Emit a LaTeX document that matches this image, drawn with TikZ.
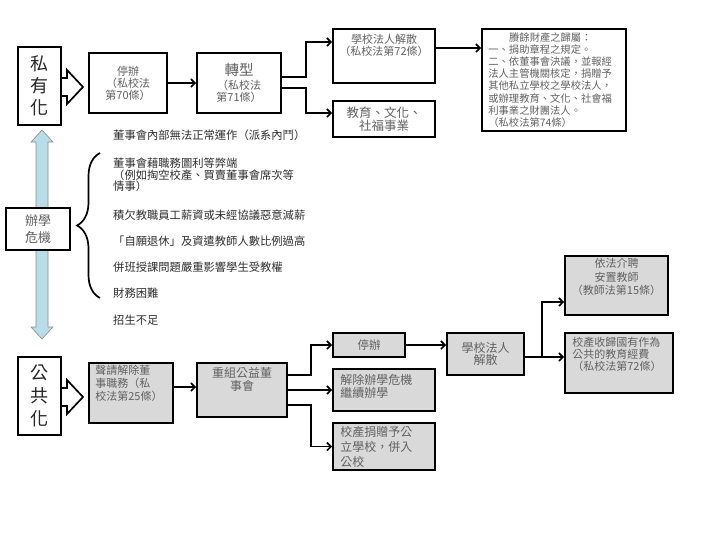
\documentclass[tikz,border=0pt]{standalone}
\usepackage{fontspec}
\newfontfamily\cjk{Noto Sans CJK TC}
\usetikzlibrary{arrows.meta, decorations.pathreplacing, calc}
\definecolor{pipeblue}{HTML}{B7DDE8}

\begin{document}
\begin{tikzpicture}[x=1pt, y=-1pt,
  box/.style={draw, line width=1.7pt, fill=white, inner sep=0pt, align=center, text=black!62, font=\cjk\fontsize{11}{12}\selectfont},
  gbox/.style={box, fill=black!15},
  big/.style={box, text=black!85, font=\cjk\fontsize{18}{22}\selectfont},
  lbl/.style={inner sep=0pt, text=black!62},
  conn/.style={line width=1.7pt, -{Straight Barb[length=4pt, width=8pt]}},
  item/.style={anchor=west, align=left, inner sep=0pt, text=black!82, font=\cjk\fontsize{11.3}{11.7}\selectfont}]
  \useasboundingbox (0,0) rectangle (715,536);

  \filldraw[draw=black!45, fill=pipeblue, line width=0.6pt] (42,130) -- (53,142) -- (48,142) -- (48,327) -- (53,327) -- (42,339) -- (31,327) -- (36,327) -- (36,142) -- (31,142) -- cycle;

  \node[big, minimum width=43, minimum height=78] (syh) at (39.5,86) {私\\有\\化};
  \draw[line width=1.7pt] (syh.east |- 0,78) -- (67,78) -- (67,70) -- (83,87) -- (67,104) -- (67,96) -- (syh.east |- 0,96);
  \node[box, minimum width=78, minimum height=60] (tb) at (128,83) {停辦\\（私校法\\第70條）};
  \node[box, minimum width=84, minimum height=60] (zx) at (239,83) {{\fontsize{14.5}{16}\selectfont 轉型}\\[2pt]（私校法\\第71條）};
  \node[box, minimum width=102, minimum height=54, label={[lbl, anchor=north, yshift=-6pt, align=center, font=\cjk\fontsize{11}{11.5}\selectfont]north:{學校法人解散\\（私校法第72條）}}] (jsA) at (384,56) {};
  \node[box, minimum width=102, minimum height=36, font=\cjk\fontsize{12.5}{12.5}\selectfont] (jwf) at (384,119) {教育、文化、\\社福事業};
  \node[box, minimum width=144, minimum height=102, label={[lbl, anchor=north west, xshift=7pt, yshift=-4pt, align=left, font=\cjk\fontsize{10.3}{12.2}\selectfont]north west:{\makebox[124pt]{賸餘財產之歸屬：}\\一、捐助章程之規定。\\二、依董事會決議，並報經\\法人主管機關核定，捐贈予\\其他私立學校之學校法人，\\或辦理教育、文化、社會福\\利事業之財團法人。\\（私校法第74條）}}] (sycc) at (554,80) {};

  \draw[conn] (tb) -- (zx);
  \draw[conn] ([yshift=6pt]zx.east) -- ++(24,0) |- ([yshift=14pt]jsA.west);
  \draw[conn] ([yshift=-5pt]zx.east) -- ++(24,0) |- ([yshift=6pt]jwf.west);
  \draw[conn] ([yshift=8pt]jsA.east) -- ([yshift=8pt]jsA.east -| sycc.west);

  \node[box, minimum width=64, minimum height=42, font=\cjk\fontsize{13}{17}\selectfont] (bxwj) at (38,229) {辦學\\危機};
  \draw[line width=1.7pt, decorate, decoration={brace, amplitude=23pt}] (100,298) -- (100,153);
  \node[item] (i1) at (113,135) {董事會內部無法正常運作（派系內鬥）};
  \node[item] (i2) at (113,175) {董事會藉職務圖利等弊端\\（例如掏空校產、買賣董事會席次等\\情事）};
  \node[item] (i3) at (113,215) {積欠教職員工薪資或未經協議惡意減薪};
  \node[item] (i4) at (113,241) {「自願退休」及資遣教師人數比例過高};
  \node[item] (i5) at (113,267) {併班授課問題嚴重影響學生受教權};
  \node[item] (i6) at (113,293) {財務困難};
  \node[item] (i7) at (113,320) {招生不足};

  \node[big, minimum width=43, minimum height=78, font=\cjk\fontsize{18}{23}\selectfont] (ggh) at (39.5,396) {公\\共\\化};
  \draw[line width=1.7pt] (ggh.east |- 0,388) -- (67,388) -- (67,380) -- (83,397) -- (67,414) -- (67,406) -- (ggh.east |- 0,406);
  \node[gbox, minimum width=84, minimum height=60, label={[lbl, anchor=north west, xshift=7pt, yshift=-3pt, align=left, font=\cjk\fontsize{11}{13}\selectfont]north west:{聲請解除董\\事職務（私\\校法第25條）}}] (sq) at (131,393) {};
  \node[gbox, minimum width=90, minimum height=54, label={[lbl, anchor=north, yshift=-5pt, align=center, font=\cjk\fontsize{12}{13}\selectfont]north:{重組公益董\\事會}}] (cz) at (242,390) {};
  \node[gbox, minimum width=72, minimum height=24, font=\cjk\fontsize{11.5}{12}\selectfont] (tb2) at (369,345) {停辦};
  \node[gbox, minimum width=102, minimum height=42, label={[lbl, anchor=north west, xshift=8pt, yshift=-6pt, align=left, font=\cjk\fontsize{12}{13}\selectfont]north west:{解除辦學危機\\繼續辦學}}] (jc) at (384,390) {};
  \node[gbox, minimum width=102, minimum height=47, label={[lbl, anchor=north west, xshift=8pt, yshift=-4pt, align=left, font=\cjk\fontsize{12}{15}\selectfont]north west:{校產捐贈予公\\立學校，併入\\公校}}] (jz) at (384,446.5) {};
  \node[gbox, minimum width=77, minimum height=42, font=\cjk\fontsize{12}{12.5}\selectfont] (jsB) at (485.5,354) {學校法人\\解散};
  \node[gbox, minimum width=103, minimum height=59, label={[lbl, anchor=north, yshift=-3pt, align=center, font=\cjk\fontsize{11}{13.5}\selectfont]north:{依法介聘\\安置教師\\（教師法第15條）}}] (yf) at (616.5,285.5) {};
  \node[gbox, minimum width=108, minimum height=60, label={[lbl, anchor=north west, xshift=8pt, yshift=-5pt, align=left, font=\cjk\fontsize{11}{12}\selectfont]north west:{校產收歸國有作為\\公共的教育經費\\（私校法第72條）}}] (xc) at (619,363) {};

  \draw[conn] ([yshift=6pt]sq.east) -- ([yshift=6pt]sq.east -| cz.west);
  \draw[conn] ([yshift=15pt]cz.east) -- ++(23,0) |- (tb2.west);
  \draw[conn] (cz.east) -- (jc.west);
  \draw[conn] ([yshift=-15pt]cz.east) -- ++(23,0) |- (jz.west);
  \draw[conn] (tb2.east) -- (tb2.east -| jsB.west);
  \coordinate (fk) at (542,357);
  \draw[line width=1.7pt] ([yshift=-3pt]jsB.east) -- (fk);
  \draw[conn] (fk) |- ([yshift=-16.5pt]yf.west);
  \draw[conn] (fk) -- (fk -| xc.west);
\end{tikzpicture}
\end{document}
